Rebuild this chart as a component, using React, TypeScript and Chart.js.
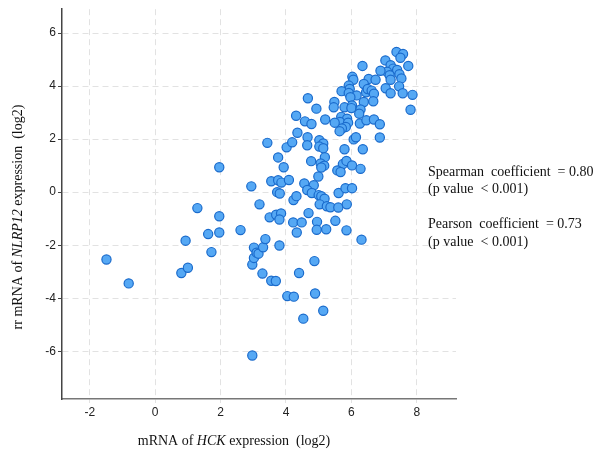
import React, { useEffect, useRef } from "react";
import { Chart, registerables } from "chart.js";

Chart.register(...registerables);

// HCK expression (log2)
const hckValues: number[] = [
  -1.49, -0.81, 0.8, 1.0, 0.93, 1.29, 1.62, 1.72, 1.96, 1.96,
  1.96, 2.61, 2.94, 2.97, 3.19, 2.97, 3.02, 3.02, 3.1, 3.16,
  3.3, 3.37, 3.28, 3.55, 3.69, 3.5, 3.7, 3.85, 3.8, 3.8,
  3.73, 3.81, 4.04, 4.24, 4.23, 4.32, 4.22, 4.48, 4.33, 4.4,
  3.55, 3.76, 3.86, 4.09, 3.43, 3.76, 3.93, 4.02, 4.19, 4.31,
  4.35, 4.67, 4.93, 4.58, 4.78, 5.2, 4.66, 4.65, 5.02, 5.14,
  5.02, 5.14, 5.19, 4.77, 5.06, 5.17, 5.08, 4.99, 4.56, 4.85,
  4.65, 4.79, 5.0, 5.08, 5.18, 5.03, 5.25, 5.36, 5.6, 5.86,
  5.61, 5.82, 6.02, 4.69, 4.95, 4.94, 5.23, 5.51, 5.85, 6.31,
  4.87, 4.89, 5.14, 4.53, 7.38, 7.58, 7.5, 7.04, 7.74, 6.34,
  7.2, 7.28, 7.09, 7.4, 7.47, 6.89, 7.17, 7.2, 7.53, 7.46,
  7.57, 7.87, 7.81, 7.05, 7.2, 6.03, 6.06, 6.53, 6.74, 6.38,
  6.45, 5.92, 5.95, 5.7, 5.92, 6.16, 5.97, 6.5, 6.62, 6.69,
  6.67, 6.38, 5.48, 5.46, 5.79, 6.02, 6.0, 6.28, 6.24, 5.69,
  5.87, 5.65, 5.9, 5.83, 5.71, 5.64, 5.49, 6.26, 6.46, 6.69,
  6.87, 6.87, 6.07, 6.14, 5.79, 6.35, 5.74, 5.85, 6.02, 6.28,
  5.57, 5.67,
];

// NLRP12 expression (log2)
const nlrp12Values: number[] = [
  -2.54, -3.44, -3.05, -2.85, -1.83, -0.6, -1.58, -2.26, -0.91, -1.52,
  0.94, -1.43, 0.22, -6.16, -0.46, -2.73, -2.48, -2.09, -2.28, -2.32,
  -2.08, -1.77, -3.07, -3.34, -3.35, -0.95, -0.85, -0.8, -1.03, -2.01,
  0.0, -0.05, -3.92, -3.94, -0.3, -0.15, -1.14, -1.14, -1.52, -3.05,
  0.41, 0.45, 0.36, 0.46, 1.86, 1.31, 0.94, 1.69, 1.88, 2.88,
  2.24, 3.54, 3.15, 2.67, 2.57, 2.74, 2.07, 1.77, 1.96, 1.84,
  1.72, 1.66, 1.32, 1.17, 1.08, 1.0, 0.93, 0.59, 0.33, 0.26,
  0.08, -0.03, -0.11, -0.15, -0.25, -0.46, -0.53, -0.57, -0.58, -0.46,
  -0.03, 0.15, 0.15, -0.79, -1.12, -1.42, -1.4, -1.08, -1.44, -1.79,
  -2.6, -3.82, -4.47, -4.77, 5.29, 5.21, 5.07, 4.97, 4.76, 4.76,
  4.79, 4.66, 4.54, 4.61, 4.45, 4.58, 4.41, 4.24, 4.29, 3.99,
  3.73, 3.67, 3.11, 3.92, 3.73, 4.35, 4.24, 4.27, 4.24, 4.08,
  3.77, 4.02, 3.89, 3.81, 3.74, 3.65, 3.58, 3.89, 3.83, 3.71,
  3.43, 3.4, 3.4, 3.2, 3.2, 3.27, 3.17, 3.12, 2.96, 2.84,
  2.77, 2.65, 2.62, 2.46, 2.4, 2.3, 2.62, 2.59, 2.71, 2.74,
  2.56, 2.06, 1.99, 2.07, 1.62, 1.62, 1.06, 1.18, 1.01, 0.88,
  0.82, 0.76,
];

const xTickValues = [-2, 0, 2, 4, 6, 8];
const yTickValues = [-6, -4, -2, 0, 2, 4, 6];

const xTitleParts = [
  { text: "mRNA of ", italic: false },
  { text: "HCK", italic: true },
  { text: " expression  (log2)", italic: false },
];
const yTitleParts = [
  { text: "rr mRNA of ", italic: false },
  { text: "NLRP12", italic: true },
  { text: " expression  (log2)", italic: false },
];
const statLines = [
  "Spearman  coefficient  = 0.80",
  "(p value  < 0.001)",
  "",
  "Pearson  coefficient  = 0.73",
  "(p value  < 0.001)",
];

const SERIF = "'Liberation Serif', 'DejaVu Serif', serif";
const SANS = "'Liberation Sans', Arial, sans-serif";

function drawRich(
  ctx: CanvasRenderingContext2D,
  parts: { text: string; italic: boolean }[],
  cx: number,
  cy: number,
  size: number
) {
  const fontFor = (it: boolean) => `${it ? "italic " : ""}${size}px ${SERIF}`;
  let total = 0;
  const widths = parts.map((p) => {
    ctx.font = fontFor(p.italic);
    const w = ctx.measureText(p.text).width;
    total += w;
    return w;
  });
  let x = cx - total / 2;
  ctx.textBaseline = "middle";
  ctx.textAlign = "left";
  parts.forEach((p, i) => {
    ctx.font = fontFor(p.italic);
    ctx.fillText(p.text, x, cy);
    x += widths[i];
  });
}

const textPlugin = {
  id: "textPlugin",
  afterDraw(chart: any) {
    const ctx: CanvasRenderingContext2D = chart.ctx;
    ctx.save();
    ctx.fillStyle = "#111";
    drawRich(ctx, xTitleParts, 234, 441, 14);
    ctx.save();
    ctx.translate(18, 217);
    ctx.rotate(-Math.PI / 2);
    drawRich(ctx, yTitleParts, 0, 0, 14);
    ctx.restore();
    ctx.font = `14px ${SERIF}`;
    ctx.textAlign = "left";
    ctx.textBaseline = "middle";
    statLines.forEach((l, i) => {
      if (l) ctx.fillText(l, 428, 172 + i * 17.6);
    });
    ctx.restore();
  },
};

export default function App() {
  const ref = useRef<HTMLCanvasElement | null>(null);
  useEffect(() => {
    if (!ref.current) return;
    const points = hckValues.map((x, i) => ({ x, y: nlrp12Values[i] }));
    const chart = new Chart(ref.current, {
      type: "scatter",
      data: {
        datasets: [
          {
            data: points,
            backgroundColor: "#55a8f4",
            borderColor: "#1a6bcc",
            borderWidth: 1.2,
            pointRadius: 4.6,
          },
        ],
      },
      options: {
        animation: false,
        responsive: false,
        maintainAspectRatio: false,
        layout: { padding: { left: 0, right: 144, top: 7, bottom: 0 } },
        plugins: { legend: { display: false }, tooltip: { enabled: false } },
        scales: {
          x: {
            type: "linear",
            min: -2.85,
            max: 9.2,
            afterFit: (s: any) => {
              s.height = 57;
            },
            afterBuildTicks: (s: any) => {
              s.ticks = xTickValues.map((v) => ({ value: v }));
            },
            ticks: {
              font: { family: SANS, size: 12 },
              color: "#222",
              padding: 2,
              callback: (v: any) => String(v),
            },
            grid: {
              color: "#e2e2e2",
              lineWidth: 1,
              drawOnChartArea: true,
              tickLength: 4,
              tickColor: "#e2e2e2",
            },
            border: { display: true, color: "#777", width: 1.5, dash: [6, 4] } as any,
          },
          y: {
            type: "linear",
            min: -7.8,
            max: 6.9,
            afterFit: (s: any) => {
              s.width = 62;
            },
            afterBuildTicks: (s: any) => {
              s.ticks = yTickValues.map((v) => ({ value: v }));
            },
            ticks: {
              font: { family: SANS, size: 12 },
              color: "#222",
              padding: 2,
              callback: (v: any) => String(v),
            },
            grid: {
              color: "#e2e2e2",
              lineWidth: 1,
              tickLength: 4,
              tickColor: "#444",
            },
            border: { display: true, color: "#444", width: 1.5, dash: [6, 4] } as any,
          },
        },
      },
      plugins: [textPlugin],
    });
    return () => chart.destroy();
  }, []);
  return (
    <div style={{ position: "fixed", left: 0, top: 0, width: 600, height: 456, background: "#fff" }}>
      <canvas ref={ref} width={600} height={456} style={{ width: 600, height: 456 }} />
    </div>
  );
}
